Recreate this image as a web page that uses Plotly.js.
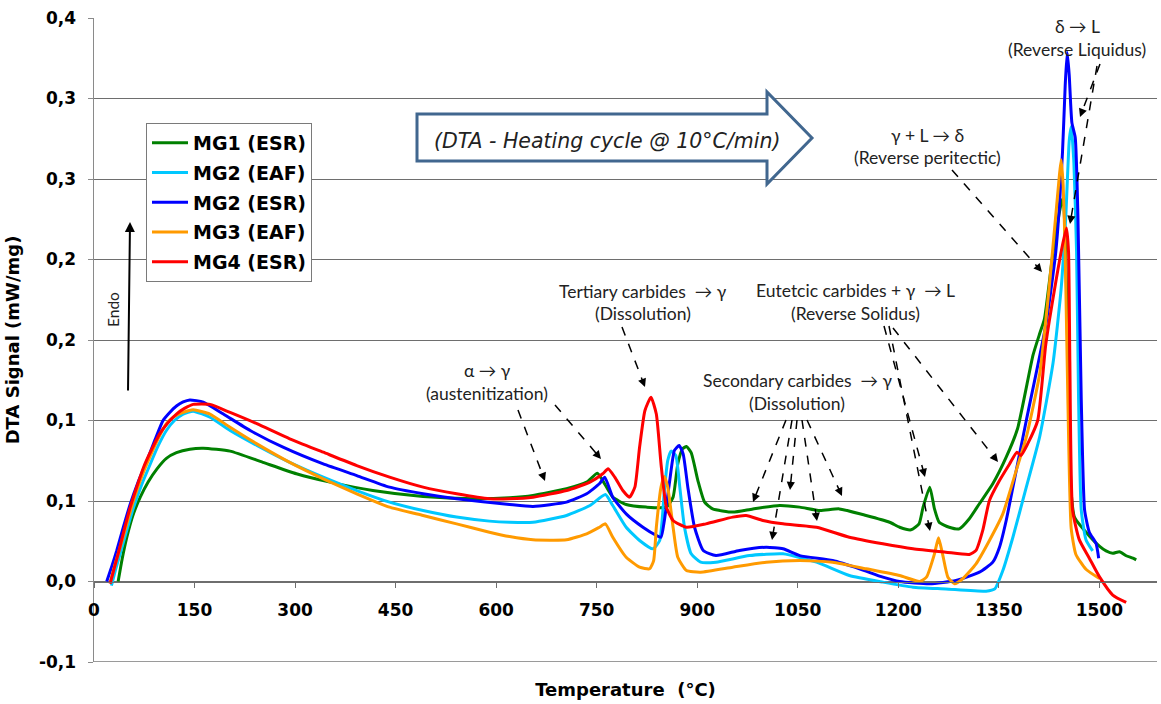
<!DOCTYPE html>
<html>
<head>
<meta charset="utf-8">
<script src="https://cdn.plot.ly/plotly-3.0.1.min.js"></script>
<style>html,body{margin:0;padding:0;background:#fff;}#chart{width:1161px;height:704px;}</style>
</head>
<body>
<div id="chart"></div>
<script>
// ---------------- DATA ----------------
const seriesNames = ['MG1 (ESR)', 'MG2 (EAF)', 'MG2 (ESR)', 'MG3 (EAF)', 'MG4 (ESR)'];

const tempMG1ESR = [36, 42, 49, 58, 69, 81, 94, 108, 123, 143, 163, 203, 252, 302, 352, 416, 491, 566, 620, 655, 705, 735, 751, 759, 774, 794, 824, 854, 864, 871, 878, 884, 891, 901, 911, 923, 953, 983, 1023, 1053, 1083, 1112, 1152, 1187, 1202, 1219, 1231, 1237, 1247, 1254, 1261, 1276, 1291, 1306, 1321, 1341, 1361, 1378, 1401, 1411, 1418, 1431, 1443, 1446, 1450, 1454, 1458, 1463, 1485, 1500, 1510, 1520, 1530, 1540, 1550, 1555];
const dtaMG1ESR  = [0, 0.014, 0.0275, 0.041, 0.0524, 0.062, 0.070, 0.0765, 0.080, 0.0822, 0.0828, 0.081, 0.074, 0.0669, 0.0617, 0.0565, 0.0528, 0.0514, 0.052, 0.0534, 0.0576, 0.0617, 0.0673, 0.0627, 0.0524, 0.0478, 0.0462, 0.0462, 0.0524, 0.073, 0.0824, 0.0838, 0.080, 0.0627, 0.0493, 0.0451, 0.0431, 0.0451, 0.0472, 0.0462, 0.0441, 0.0451, 0.041, 0.0368, 0.0337, 0.0321, 0.0358, 0.0462, 0.0586, 0.0451, 0.0368, 0.0337, 0.0327, 0.039, 0.0483, 0.0607, 0.0772, 0.095, 0.1406, 0.154, 0.163, 0.2047, 0.2345, 0.238, 0.20, 0.12, 0.055, 0.0398, 0.0283, 0.022, 0.019, 0.0175, 0.0185, 0.016, 0.0145, 0.0134];

const tempMG2EAF = [26, 32, 39, 49, 59, 71, 84, 96, 108, 120, 133, 148, 173, 203, 243, 292, 342, 392, 441, 491, 541, 590, 620, 655, 705, 740, 763, 774, 794, 814, 834, 844, 851, 856, 861, 868, 874, 881, 891, 905, 928, 978, 1028, 1078, 1127, 1177, 1222, 1271, 1331, 1344, 1356, 1371, 1391, 1411, 1431, 1443, 1450, 1455, 1458, 1462, 1466, 1469, 1473, 1480, 1490];
const dtaMG2EAF  = [-0.0025, 0.007, 0.0172, 0.032, 0.046, 0.060, 0.073, 0.0845, 0.0938, 0.100, 0.104, 0.1058, 0.102, 0.0938, 0.0845, 0.074, 0.0648, 0.0565, 0.0493, 0.0441, 0.040, 0.0375, 0.0368, 0.0368, 0.041, 0.0472, 0.054, 0.0472, 0.0337, 0.0255, 0.0203, 0.0255, 0.0565, 0.0751, 0.081, 0.0783, 0.0586, 0.0337, 0.0172, 0.012, 0.012, 0.0161, 0.0172, 0.012, 0.0037, -0.0004, -0.0035, -0.0046, -0.006, -0.0046, 0.0068, 0.0275, 0.0586, 0.090, 0.136, 0.182, 0.2276, 0.2735, 0.2826, 0.26, 0.2047, 0.113, 0.0443, 0.026, 0.019];

const tempMG2ESR = [19, 27, 34, 44, 54, 66, 79, 91, 103, 113, 123, 133, 143, 163, 193, 233, 282, 342, 392, 441, 491, 541, 620, 655, 705, 735, 754, 762, 774, 794, 819, 839, 846, 851, 859, 866, 873, 879, 886, 896, 909, 928, 963, 1003, 1028, 1053, 1102, 1142, 1177, 1202, 1247, 1286, 1321, 1341, 1351, 1361, 1371, 1381, 1391, 1420, 1435, 1445, 1449, 1452, 1455, 1459, 1464, 1468, 1473, 1478, 1485, 1495, 1499];
const dtaMG2ESR  = [0, 0.010, 0.0193, 0.034, 0.048, 0.062, 0.075, 0.088, 0.100, 0.105, 0.109, 0.1115, 0.1128, 0.1114, 0.104, 0.0938, 0.0834, 0.073, 0.0658, 0.0586, 0.0545, 0.0514, 0.0478, 0.0466, 0.0493, 0.0545, 0.0607, 0.0648, 0.0524, 0.042, 0.0337, 0.0286, 0.0275, 0.0379, 0.0627, 0.0814, 0.0845, 0.0793, 0.0586, 0.0337, 0.0193, 0.0161, 0.0193, 0.0213, 0.0203, 0.0161, 0.013, 0.0079, 0.0027, 0, -0.0014, 0.0006, 0.0058, 0.012, 0.0213, 0.0379, 0.0586, 0.0793, 0.100, 0.159, 0.2047, 0.2666, 0.3078, 0.3285, 0.3147, 0.285, 0.2758, 0.2276, 0.113, 0.0443, 0.0306, 0.0237, 0.0145];

const tempMG3EAF = [24, 31, 39, 49, 59, 71, 84, 96, 108, 120, 133, 148, 173, 203, 243, 292, 342, 392, 441, 491, 541, 590, 620, 655, 705, 735, 754, 763, 774, 794, 814, 829, 835, 839, 846, 851, 856, 864, 871, 884, 905, 953, 1003, 1053, 1102, 1152, 1202, 1232, 1242, 1254, 1260, 1266, 1274, 1284, 1296, 1316, 1336, 1356, 1376, 1391, 1411, 1425, 1435, 1440, 1443, 1446, 1449, 1453, 1458, 1465, 1480, 1500];
const dtaMG3EAF  = [-0.001, 0.010, 0.0213, 0.036, 0.0503, 0.065, 0.078, 0.089, 0.098, 0.1025, 0.105, 0.1066, 0.104, 0.0958, 0.0855, 0.074, 0.0638, 0.0545, 0.0462, 0.041, 0.0358, 0.0306, 0.0279, 0.0259, 0.0259, 0.0296, 0.0337, 0.0358, 0.0275, 0.0151, 0.0089, 0.0079, 0.013, 0.0337, 0.0586, 0.0652, 0.0586, 0.0337, 0.0151, 0.0068, 0.0058, 0.0089, 0.012, 0.013, 0.012, 0.0079, 0.0037, 0, 0.0027, 0.0172, 0.0271, 0.0172, 0.0027, -0.0014, 0.0017, 0.011, 0.0255, 0.042, 0.069, 0.0896, 0.129, 0.182, 0.2276, 0.2506, 0.262, 0.246, 0.2047, 0.113, 0.0328, 0.0168, 0.0076, 0.0019];

const tempMG4ESR = [24, 30, 36, 45, 54, 64, 74, 86, 98, 110, 123, 135, 148, 173, 203, 243, 292, 342, 392, 441, 491, 541, 590, 620, 655, 705, 740, 759, 767, 777, 789, 799, 807, 814, 822, 831, 839, 846, 854, 864, 884, 913, 953, 973, 998, 1028, 1078, 1127, 1177, 1222, 1271, 1306, 1316, 1326, 1336, 1351, 1366, 1377, 1383, 1393, 1408, 1420, 1435, 1445, 1451, 1454, 1456, 1460, 1470, 1485, 1500, 1520, 1540];
const dtaMG4ESR  = [-0.0014, 0.008, 0.0172, 0.032, 0.046, 0.059, 0.071, 0.082, 0.0917, 0.0985, 0.104, 0.1075, 0.110, 0.110, 0.105, 0.098, 0.0886, 0.0803, 0.072, 0.0648, 0.0586, 0.0545, 0.0514, 0.0514, 0.0524, 0.0565, 0.0617, 0.0669, 0.070, 0.0648, 0.0565, 0.0524, 0.0586, 0.0834, 0.1062, 0.1145, 0.104, 0.073, 0.0462, 0.0379, 0.0337, 0.0358, 0.040, 0.041, 0.0379, 0.0358, 0.0337, 0.0275, 0.0234, 0.0203, 0.0182, 0.0168, 0.0193, 0.0317, 0.0503, 0.0627, 0.073, 0.0803, 0.0783, 0.0855, 0.100, 0.147, 0.186, 0.209, 0.2196, 0.2047, 0.136, 0.0443, 0.026, 0.0145, 0.003, -0.0084, -0.013];

const xTickVals = [0, 150, 300, 450, 600, 750, 900, 1050, 1200, 1350, 1500];
const yTickVals = [-0.05, 0, 0.05, 0.10, 0.15, 0.20, 0.25, 0.30, 0.35];
const yTickText = ['-0,1', '0,0', '0,1', '0,1', '0,2', '0,2', '0,3', '0,3', '0,4'];

// ---------------- STYLE / LAYOUT ----------------
const colors = ['#008000', '#00C8FF', '#0000FF', '#FF9A00', '#FF0000'];
const xs = [tempMG1ESR, tempMG2EAF, tempMG2ESR, tempMG3EAF, tempMG4ESR];
const ys = [dtaMG1ESR, dtaMG2EAF, dtaMG2ESR, dtaMG3EAF, dtaMG4ESR];

// pixel helpers for placing decorations (plot area: x 94..1157, y 18..662)
const X0 = 94, X1 = 1157, Y0 = 18, Y1 = 662;
const xMax = 1586, yMin = -0.05, yMaxV = 0.35;
const px2x = px => (px - X0) / (X1 - X0) * xMax;
const py2y = py => yMaxV - (py - Y0) / (Y1 - Y0) * (yMaxV - yMin);

const traces = seriesNames.map((n, i) => ({
  type: 'scatter', mode: 'lines', name: n, x: xs[i], y: ys[i],
  legendgroup: 'g' + i,
  line: {color: colors[i], width: 3, shape: 'spline', smoothing: 0.5},
  hoverinfo: 'x+y+name'
}));

const annFont = {family: 'Lato, Open Sans, sans-serif', size: 17.5, color: '#222'};
const labels = [
  ['δ → L', 1077, 26], ['(Reverse Liquidus)', 1077, 49],
  ['γ + L → δ', 927, 135], ['(Reverse peritectic)', 927, 157],
  ['Tertiary carbides  → γ', 643, 291], ['(Dissolution)', 643, 313],
  ['Eutetcic carbides + γ  → L', 855, 290], ['(Reverse Solidus)', 855, 313],
  ['α → γ', 487, 370], ['(austenitization)', 487, 393],
  ['Secondary carbides  → γ', 797, 380], ['(Dissolution)', 797, 403]
];
const annotations = labels.map(l => ({
  text: l[0], x: px2x(l[1]), y: py2y(l[2]), xref: 'x', yref: 'y',
  showarrow: false, xanchor: 'center', yanchor: 'middle', font: annFont
}));

// dashed pointer arrows: [tailX, tailY, headX, headY] in pixels
const arrows = [
  [518, 410, 545, 481], [555, 405, 601, 459],
  [622, 327, 645, 387],
  [786, 420, 753, 502], [792, 420, 772, 540], [797, 420, 790, 490], [802, 420, 817, 521], [807, 420, 842, 496],
  [884, 326, 925, 477], [889, 326, 930, 531], [893, 328, 998, 462],
  [952, 170, 1042, 272],
  [1100, 64, 1080, 117], [1097, 66, 1070, 224]
];
const shapes = [];
arrows.forEach(a => {
  const dx = a[0] - a[2], dy = a[1] - a[3], L = Math.hypot(dx, dy);
  const ux = dx / L, uy = dy / L;
  shapes.push({type: 'line', xref: 'x', yref: 'y', layer: 'above',
    x0: px2x(a[0]), y0: py2y(a[1]), x1: px2x(a[2] + ux * 6), y1: py2y(a[3] + uy * 6),
    line: {color: '#000', width: 1.5, dash: 'dash'}});
  annotations.push({x: px2x(a[2]), y: py2y(a[3]), xref: 'x', yref: 'y', text: '',
    showarrow: true, ax: ux * 9, ay: uy * 9, arrowhead: 2, arrowsize: 1.1, arrowwidth: 1.5,
    arrowcolor: '#000', standoff: 0});
});

// bottom frame line of the plot area
shapes.push({type: 'line', xref: 'paper', yref: 'y', layer: 'below', x0: 0, x1: 1, y0: yMin, y1: yMin,
  line: {color: '#9a9a9a', width: 2}});

// Endo arrow and label
annotations.push({x: px2x(130), y: py2y(222), xref: 'x', yref: 'y', text: '', showarrow: true,
  ax: -2, ay: 170, arrowhead: 2, arrowsize: 1, arrowwidth: 2, arrowcolor: '#000', standoff: 0});
annotations.push({x: px2x(113), y: py2y(310), xref: 'x', yref: 'y', text: 'Endo', textangle: -90,
  showarrow: false, font: {family: 'Lato, Open Sans, sans-serif', size: 15.5, color: '#222'}});

// hollow "heating" arrow
const P = (a, b) => px2x(a) + ',' + py2y(b);
shapes.push({type: 'path', xref: 'x', yref: 'y', layer: 'above',
  path: 'M' + P(417, 114) + ' L' + P(767, 114) + ' L' + P(767, 92) + ' L' + P(812, 138) +
        ' L' + P(767, 184) + ' L' + P(767, 161) + ' L' + P(417, 161) + ' Z',
  fillcolor: '#FFFFFF', line: {color: '#41678F', width: 3}});
annotations.push({x: px2x(607), y: py2y(141), xref: 'x', yref: 'y', showarrow: false,
  text: '(DTA - Heating cycle @ 10°C/min)',
  font: {family: 'DejaVu Sans', size: 20.5, style: 'italic', color: '#222'}});

const bold = (s) => ({family: 'DejaVu Sans', size: s, weight: 'bold', color: '#000'});

const layout = {
  width: 1161, height: 704,
  margin: {l: 94, r: 1161 - 1157, t: 18, b: 704 - 662, pad: 0},
  paper_bgcolor: '#fff', plot_bgcolor: '#fff',
  showlegend: true,
  legend: {x: (146 - X0) / (X1 - X0), y: 1 - (123 - Y0) / (Y1 - Y0), xanchor: 'left', yanchor: 'top',
    bgcolor: '#fff', bordercolor: '#7a7a7a', borderwidth: 1, font: bold(19),
    traceorder: 'grouped', tracegroupgap: 2, itemwidth: 36},
  xaxis: {range: [0, xMax], anchor: 'free', position: (0 - yMin) / (yMaxV - yMin),
    showline: true, linecolor: '#6e6e6e', linewidth: 1, ticks: 'outside', ticklen: 5,
    tickcolor: '#6e6e6e', tickvals: xTickVals, ticktext: xTickVals.map(String),
    showgrid: false, zeroline: false, tickfont: bold(17), ticklabelstandoff: 8,
    title: {text: 'Temperature  (°C)', font: bold(18), standoff: 64}},
  yaxis: {range: [yMin, yMaxV], tickvals: yTickVals, ticktext: yTickText,
    showgrid: true, gridcolor: '#6e6e6e', gridwidth: 1, zeroline: false,
    showline: true, linecolor: '#8a8a8a', linewidth: 1.5, ticks: 'outside', ticklen: 5,
    tickcolor: '#8a8a8a', tickfont: bold(17), ticklabelstandoff: 8,
    title: {text: 'DTA Signal (mW/mg)', font: bold(18), standoff: 14}},
  shapes: shapes,
  annotations: annotations
};

Plotly.newPlot('chart', traces, layout, {displayModeBar: false, staticPlot: true});
</script>
</body>
</html>
